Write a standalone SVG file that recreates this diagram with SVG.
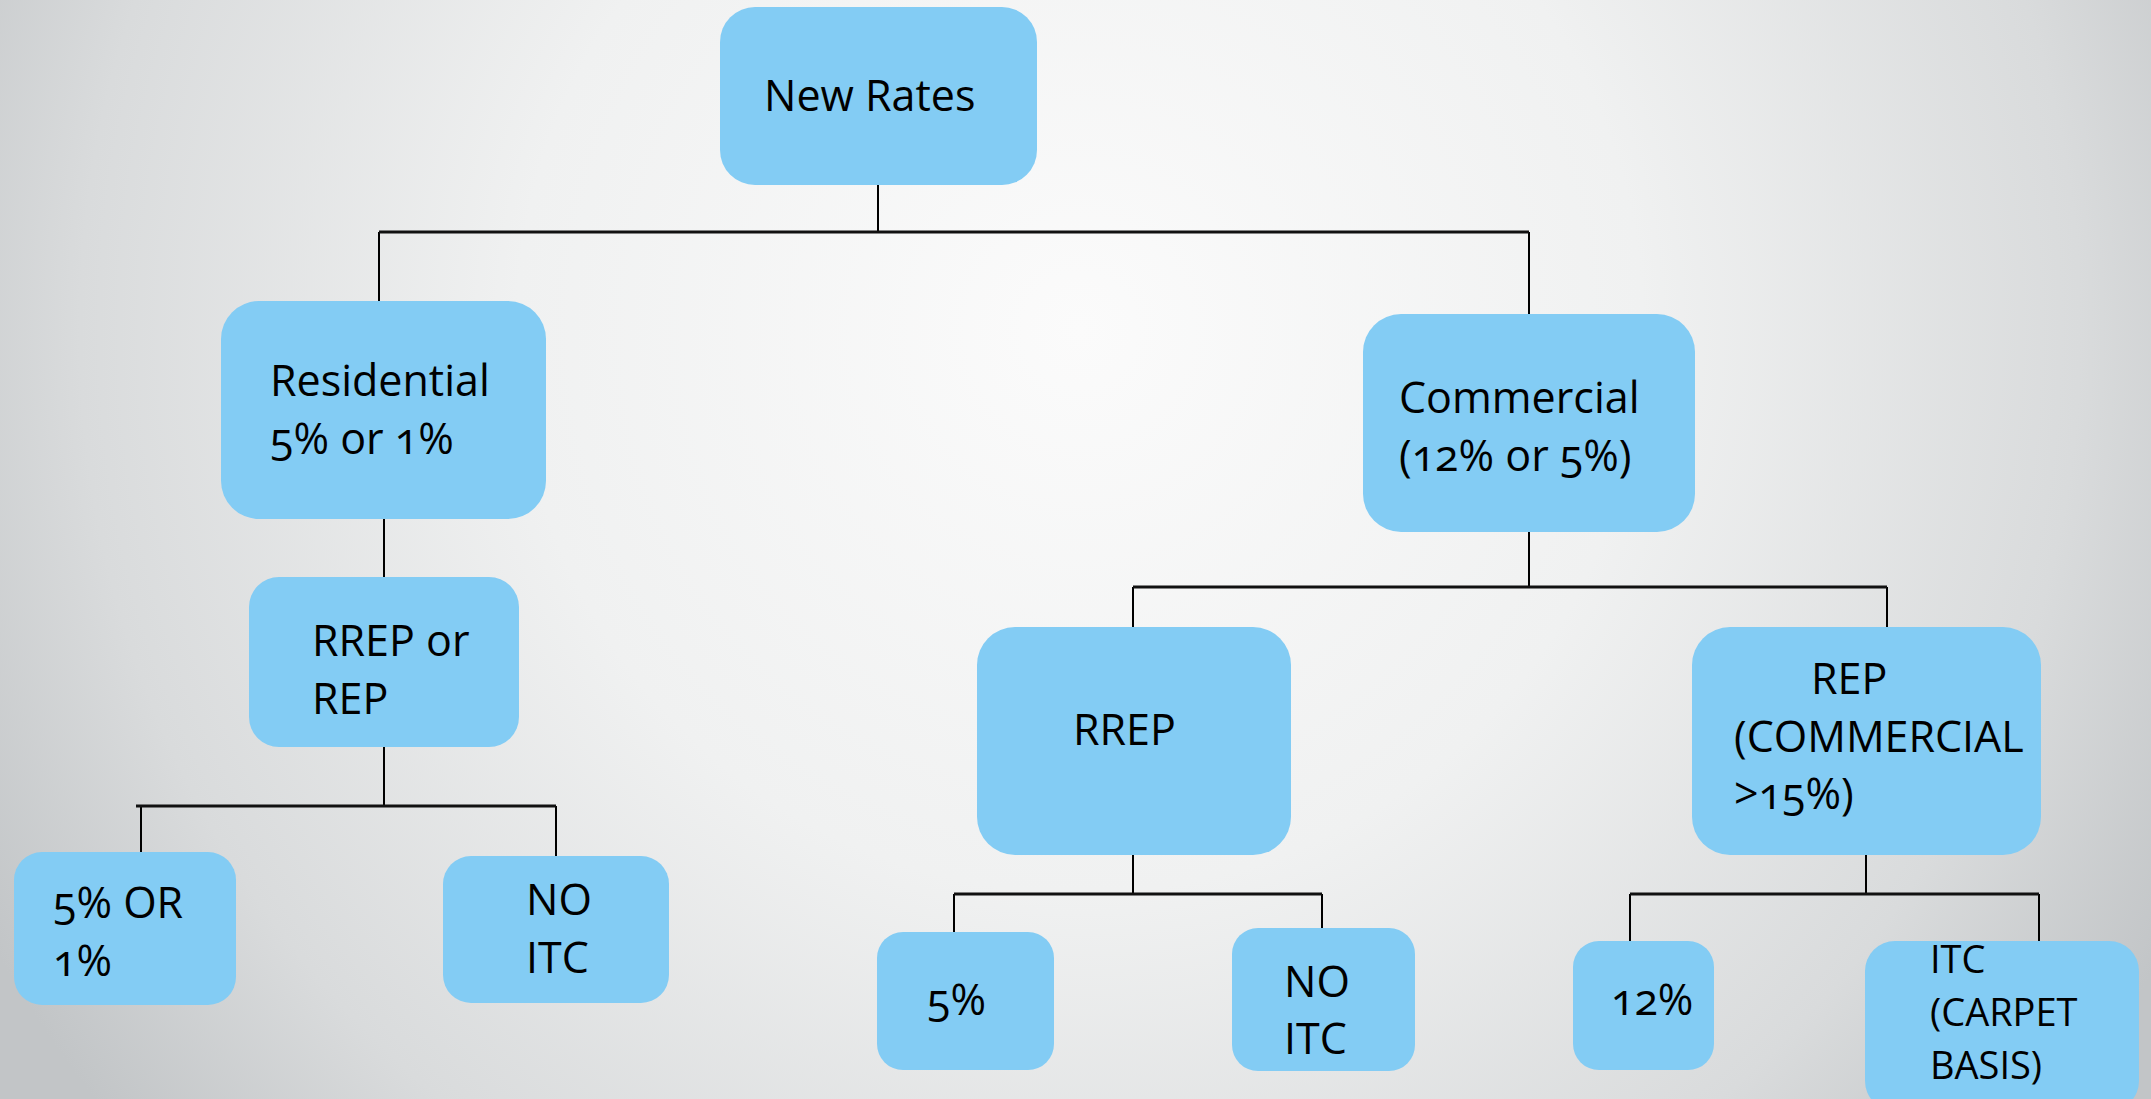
<svg xmlns="http://www.w3.org/2000/svg" width="2151" height="1099" viewBox="0 0 2151 1099">
  <defs>
    <radialGradient id="bg" gradientUnits="userSpaceOnUse" cx="1080" cy="330" r="1250">
      <stop offset="0" stop-color="#fbfbfb"/>
      <stop offset="0.45" stop-color="#f0f1f1"/>
      <stop offset="0.8" stop-color="#d9dbdc"/>
      <stop offset="1" stop-color="#c2c5c7"/>
    </radialGradient>
    <style>
      .box { fill: #83ccf4; }
      .lbl { font-family: "Open Sans", "Noto Sans", "Liberation Sans", sans-serif; font-size: 43px; fill: #000; font-variant-numeric: oldstyle-nums; font-feature-settings: "onum" 1; }
      .sm { font-size: 38px; }
      .ln { stroke: #000; stroke-width: 2; fill: none; }
      .lnb { stroke: #111; stroke-width: 3; fill: none; }
    </style>
  </defs>
  <rect x="0" y="0" width="2151" height="1099" fill="url(#bg)"/>

  <g id="connectors">
    <path class="ln" d="M878 185 V232 M379 232 V301 M1529 232 V314"/>
    <path class="lnb" d="M379 232 H1529"/>
    <path class="ln" d="M384 519 V577"/>
    <path class="ln" d="M384 747 V806 M141 806 V853 M556 806 V856"/>
    <path class="lnb" d="M136 806 H556"/>
    <path class="ln" d="M1529 532 V587 M1133 587 V627 M1887 587 V627"/>
    <path class="lnb" d="M1133 587 H1887"/>
    <path class="ln" d="M1133 855 V894 M954 894 V932 M1322 894 V928"/>
    <path class="lnb" d="M954 894 H1322"/>
    <path class="ln" d="M1866 855 V894 M1630 894 V941 M2039 894 V941"/>
    <path class="lnb" d="M1630 894 H2039"/>
  </g>

  <g id="new-rates">
    <rect class="box" x="720" y="7" width="317" height="178" rx="35"/>
    <text class="lbl" x="764" y="111">New Rates</text>
  </g>
  <g id="residential">
    <rect class="box" x="221" y="301" width="325" height="218" rx="38"/>
    <text class="lbl" x="270" y="396">Residential</text>
    <text class="lbl" x="270" y="454">5% or 1%</text>
  </g>
  <g id="commercial">
    <rect class="box" x="1363" y="314" width="332" height="218" rx="38"/>
    <text class="lbl" x="1399" y="413">Commercial</text>
    <text class="lbl" x="1399" y="471">(12% or 5%)</text>
  </g>
  <g id="rrep-or-rep">
    <rect class="box" x="249" y="577" width="270" height="170" rx="30"/>
    <text class="lbl" x="312" y="656">RREP or</text>
    <text class="lbl" x="312" y="714">REP</text>
  </g>
  <g id="rrep">
    <rect class="box" x="977" y="627" width="314" height="228" rx="38"/>
    <text class="lbl" x="1073" y="745">RREP</text>
  </g>
  <g id="rep-commercial">
    <rect class="box" x="1692" y="627" width="349" height="228" rx="38"/>
    <text class="lbl" x="1811" y="694">REP</text>
    <text class="lbl" x="1734" y="752">(COMMERCIAL</text>
    <text class="lbl" x="1734" y="809">&gt;15%)</text>
  </g>
  <g id="res-5-or-1">
    <rect class="box" x="14" y="852" width="222" height="153" rx="28"/>
    <text class="lbl" x="53" y="918">5% OR</text>
    <text class="lbl" x="53" y="976">1%</text>
  </g>
  <g id="res-no-itc">
    <rect class="box" x="443" y="856" width="226" height="147" rx="28"/>
    <text class="lbl" x="526" y="915">NO</text>
    <text class="lbl" x="526" y="973">ITC</text>
  </g>
  <g id="rrep-5">
    <rect class="box" x="877" y="932" width="177" height="138" rx="26"/>
    <text class="lbl" x="927" y="1015">5%</text>
  </g>
  <g id="rrep-no-itc">
    <rect class="box" x="1232" y="928" width="183" height="143" rx="26"/>
    <text class="lbl" x="1284" y="997">NO</text>
    <text class="lbl" x="1284" y="1054">ITC</text>
  </g>
  <g id="rep-12">
    <rect class="box" x="1573" y="941" width="141" height="129" rx="26"/>
    <text class="lbl" x="1611" y="1015">12%</text>
  </g>
  <g id="rep-itc">
    <rect class="box" x="1865" y="941" width="274" height="170" rx="30"/>
    <text class="lbl sm" x="1930" y="973">ITC</text>
    <text class="lbl sm" x="1930" y="1026">(CARPET</text>
    <text class="lbl sm" x="1930" y="1079">BASIS)</text>
  </g>
</svg>
